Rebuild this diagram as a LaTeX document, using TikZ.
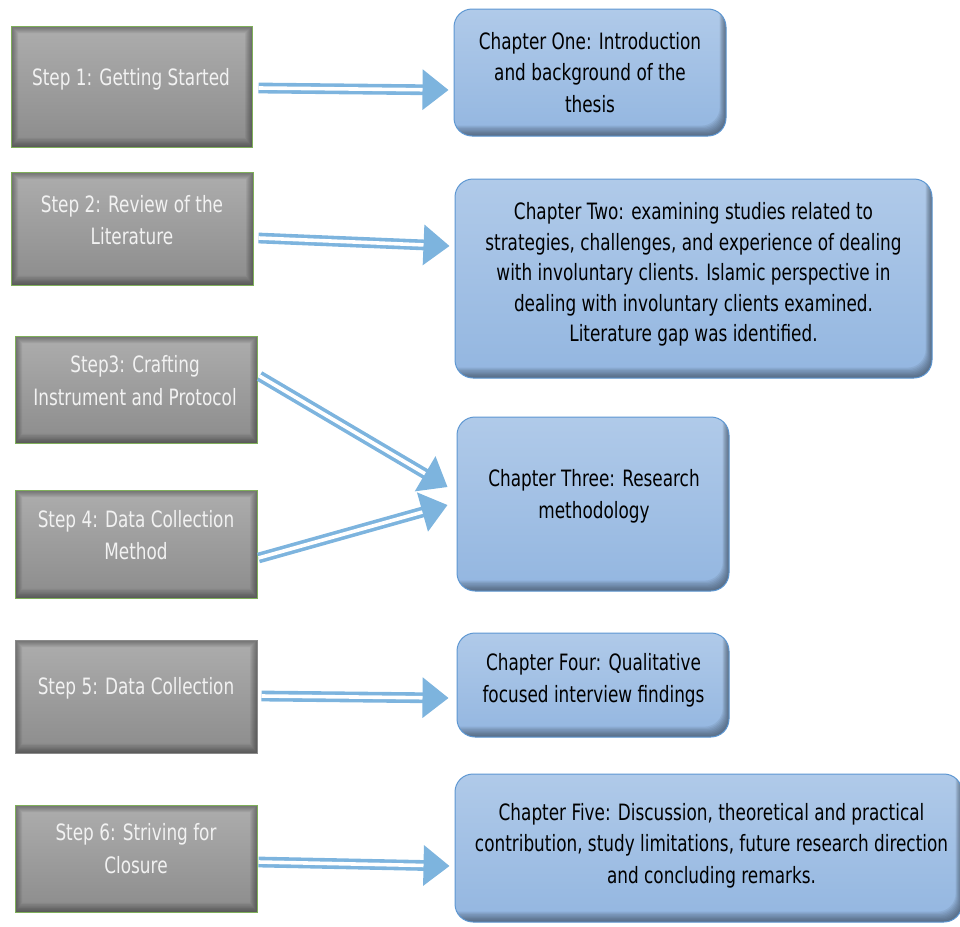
\documentclass[tikz,border=0pt]{standalone}
\usepackage{fontspec}
\setmainfont{DejaVu Sans}[FakeStretch=0.75]
\usetikzlibrary{arrows.meta,calc}

\definecolor{stepTop}{HTML}{ADADAD}
\definecolor{stepBot}{HTML}{8C8C8C}
\definecolor{stepText}{HTML}{F2F2F2}
\definecolor{stepEdge}{HTML}{7FAF5A}
\definecolor{stepEdgeGray}{HTML}{8A8A8A}
\definecolor{chapTop}{HTML}{B0CAE9}
\definecolor{chapBot}{HTML}{93B6E0}
\definecolor{chapEdge}{HTML}{5E97D2}
\definecolor{flowBlue}{HTML}{7DB4DE}

\tikzset{
  stepbox/.style={rectangle, draw=#1, line width=1pt,
    top color=stepTop, bottom color=stepBot,
    path picture={
      \foreach \k in {1,...,7}{
        \fill[black, opacity=0.055, even odd rule]
          ([xshift=-2pt,yshift=-2pt]path picture bounding box.south west)
            rectangle ([xshift=2pt,yshift=2pt]path picture bounding box.north east)
          ([xshift=\k pt,yshift=1.3*\k pt]path picture bounding box.south west)
            rectangle ([xshift=-\k pt,yshift=-\k pt]path picture bounding box.north east);
      }
    }},
  stepbox/.default=stepEdge,
  steptext/.style={align=center, text=stepText, inner sep=0pt,
    font=\fontsize{22.5}{32.5}\selectfont},
  chapbox/.style={rectangle, rounded corners=18pt, draw=chapEdge, line width=1pt,
    top color=chapTop, bottom color=chapBot,
    path picture={
      \foreach \k in {1,...,8}{
        \fill[black!70!chapBot, opacity=0.09, even odd rule, rounded corners=18pt]
          ([xshift=-20pt,yshift=-20pt]path picture bounding box.south west)
            rectangle ([xshift=20pt,yshift=20pt]path picture bounding box.north east)
          ([xshift=-30pt,yshift=1.3*\k pt]path picture bounding box.south west)
            rectangle ([xshift=-0.8*\k pt,yshift=30pt]path picture bounding box.north east);
      }
    }},
  chaptext/.style={align=center, text=black, inner sep=0pt,
    font=\fontsize{22.5}{31.5}\selectfont},
  flow/.style={draw=flowBlue, line width=3.6pt, double=white, double distance=3.6pt,
    -{Triangle[length=26pt,width=40pt]}},
}

\begin{document}
\begin{tikzpicture}[x=1pt,y=-1pt]
\useasboundingbox (0,0) rectangle (960,926);

% left column: the six steps
\node[stepbox, minimum width=241pt, minimum height=121pt] (s1) at (131.5,86.5) {};
\node[stepbox, minimum width=242pt, minimum height=113pt] (s2) at (132,228.5) {};
\node[stepbox, minimum width=242pt, minimum height=107pt] (s3) at (136,389.5) {};
\node[stepbox, minimum width=242pt, minimum height=108pt] (s4) at (136,544) {};
\node[stepbox=stepEdgeGray, minimum width=242pt, minimum height=113pt] (s5) at (136,696.5) {};
\node[stepbox, minimum width=242pt, minimum height=107pt] (s6) at (136,858.5) {};

\node[steptext] (s1t) at (131,79) {Step 1: Getting Started};
\node[steptext] (s2t) at (132,220) {Step 2: Review of the\\Literature};
\node[steptext] (s3t) at (135,380.5) {Step3: Crafting\\Instrument and Protocol};
\node[steptext] (s4t) at (136,535) {Step 4: Data Collection\\Method};
\node[steptext] (s5t) at (136,688) {Step 5: Data Collection};
\node[steptext] (s6t) at (136,848.5) {Step 6: Striving for\\Closure};

% right column: the five chapters
\node[chapbox, minimum width=272pt, minimum height=127pt] (c1) at (590,72.5) {};
\node[chapbox, minimum width=477pt, minimum height=199pt] (c2) at (693.5,278.5) {};
\node[chapbox, minimum width=272pt, minimum height=174pt] (c3) at (593,504) {};
\node[chapbox, minimum width=272pt, minimum height=104pt] (c4) at (593,685) {};
\node[chapbox, minimum width=507pt, minimum height=148pt] (c5) at (708.5,848) {};

\node[chaptext] (c1t) at (590,72.5) {Chapter One: Introduction\\and background of the\\thesis};
\node[chaptext, font=\fontsize{22.5}{30.4}\selectfont] (c2t) at (693.5,274.5) {Chapter Two: examining studies related to\\strategies, challenges, and experience of dealing\\with involuntary clients. Islamic perspective in\\dealing with involuntary clients examined.\\Literature gap was identified.};
\node[chaptext] (c3t) at (594,496.5) {Chapter Three: Research\\methodology};
\node[chaptext] (c4t) at (593.5,680.5) {Chapter Four: Qualitative\\focused interview findings};
\node[chaptext] (c5t) at (711.5,845.5) {Chapter Five: Discussion, theoretical and practical\\contribution, study limitations, future research direction\\and concluding remarks.};

% double-line arrows from steps to chapters
\draw[flow] ([shift={(6,1.5)}]s1.east) -- ([shift={(-5,17.5)}]c1.west);
\draw[flow] ([shift={(5,9.5)}]s2.east) -- ([shift={(-5,-32.5)}]c2.west);
\draw[flow] ([shift={(2,-13.5)}]s3.east) -- ([shift={(-9,-17)}]c3.west);
\draw[flow] ([shift={(1,14)}]s4.east) -- ([shift={(-9,1)}]c3.west);
\draw[flow] ([shift={(4,-0.5)}]s5.east) -- ([shift={(-8,13)}]c4.west);
\draw[flow] ([shift={(1,3.5)}]s6.east) -- ([shift={(-5,18)}]c5.west);
\end{tikzpicture}
\end{document}
